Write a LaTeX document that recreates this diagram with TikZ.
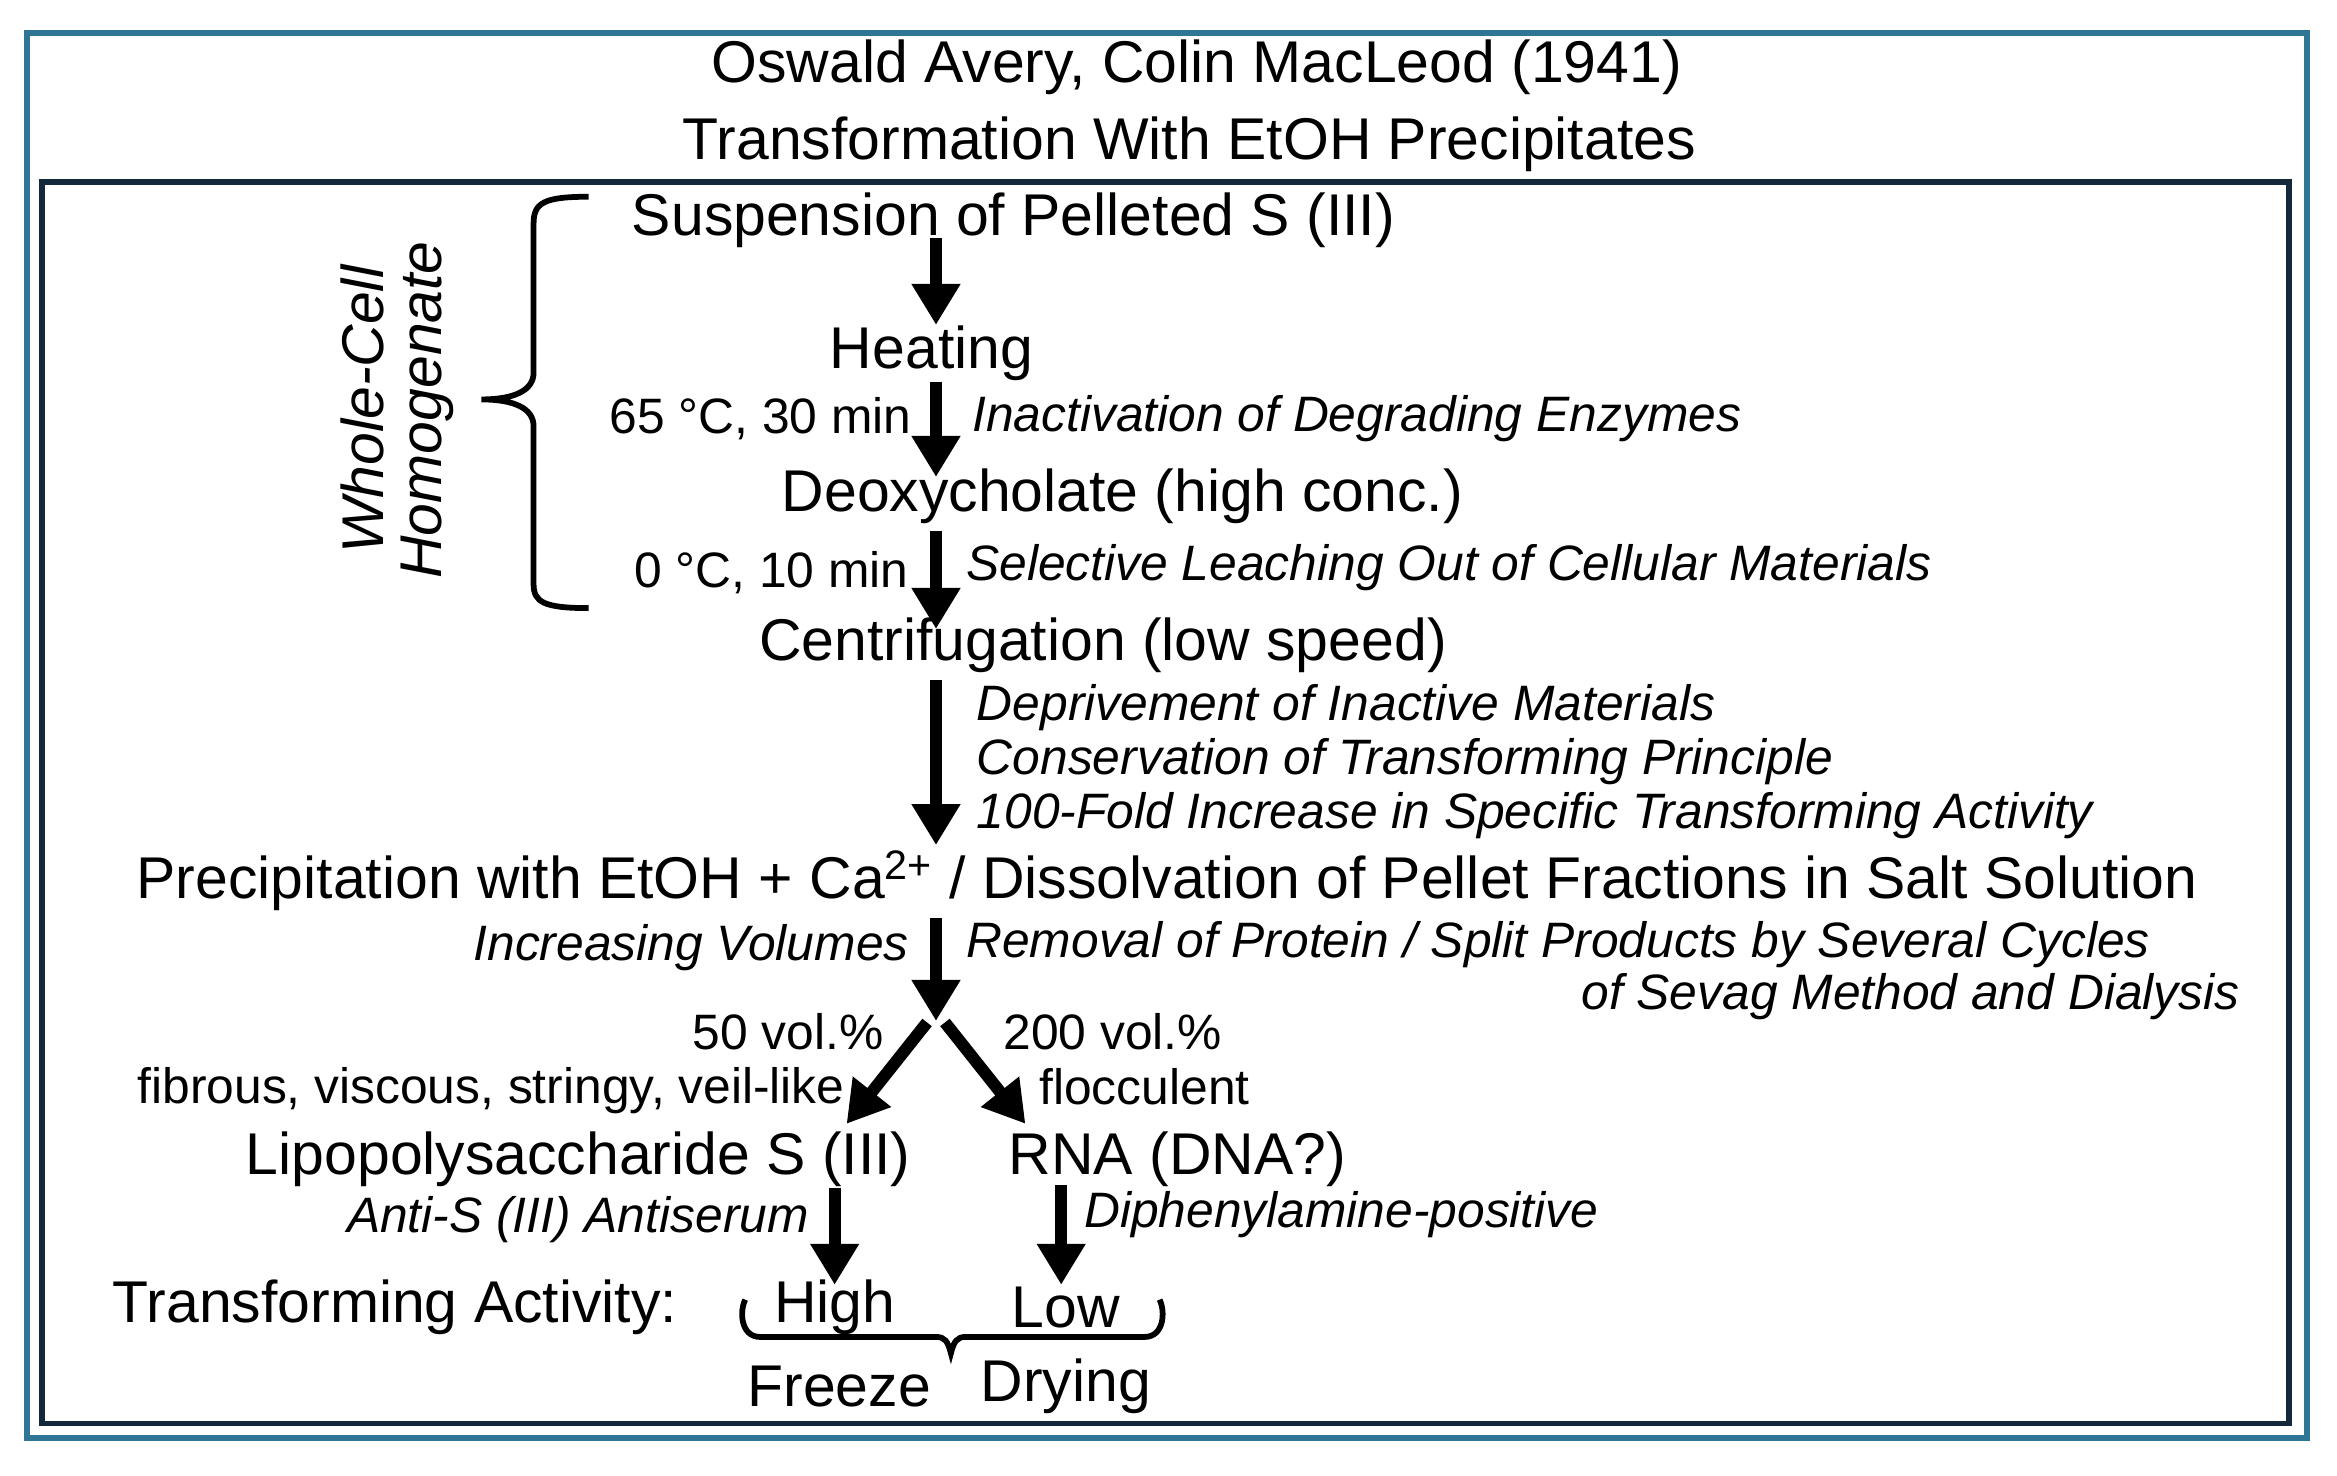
\documentclass[tikz,border=0pt]{standalone}
\usepackage{fontspec}
\setmainfont{Liberation Sans}
\usetikzlibrary{arrows.meta}
\begin{document}
\begin{tikzpicture}[x=0.02cm,y=-0.02cm,
  big/.style={inner sep=0pt,font=\fontsize{22.5}{26}\selectfont},
  sm/.style={inner sep=0pt,font=\fontsize{19}{22}\selectfont},
  it/.style={inner sep=0pt,font=\fontsize{19}{22}\selectfont\itshape},
  arr/.style={line width=4.6pt,-{Triangle[length=0.55cm,width=0.62cm]}},
  br/.style={line width=2.2pt}]
\useasboundingbox (0,0) rectangle (1568,990);
\draw[line width=2.2pt,draw={rgb,255:red,46;green,117;blue,150}] (18,22) rectangle (1548,965);
\draw[line width=2.2pt,draw={rgb,255:red,20;green,40;blue,60}] (28,122) rectangle (1536,955);
\node[big] (t1) at (803,45) {Oswald Avery, Colin MacLeod (1941)};
\node[big] (t2) at (798,97) {Transformation With EtOH Precipitates};
\node[big] (n1) at (680,148) {Suspension of Pelleted S (III)};
\node[big] (n2) at (625,237) {Heating};
\node[big] (n3) at (753,333) {Deoxycholate (high conc.)};
\node[big] (n4) at (740,433) {Centrifugation (low speed)};
\node[big] (n5) at (783,591) {Precipitation with EtOH + Ca\textsuperscript{2+} / Dissolvation of Pellet Fractions in Salt Solution};
\coordinate (a1s) at (628,160); \coordinate (a1e) at (628,218);
\coordinate (a2s) at (628,256); \coordinate (a2e) at (628,320);
\coordinate (a3s) at (628,356); \coordinate (a3e) at (628,422);
\coordinate (a4s) at (628,456); \coordinate (a4e) at (628,567);
\coordinate (a5s) at (628,616); \coordinate (a5e) at (628,685);
\draw[arr] (a1s) -- (a1e);
\draw[arr] (a2s) -- (a2e);
\draw[arr] (a3s) -- (a3e);
\draw[arr] (a4s) -- (a4e);
\draw[arr] (a5s) -- (a5e);
\node[sm,anchor=east] (l1) at (612,281) {65 °C, 30 min};
\node[it,anchor=west] (r1) at (652,281) {Inactivation of Degrading Enzymes};
\node[sm,anchor=east] (l2) at (610,384) {0 °C, 10 min};
\node[it,anchor=west] (r2) at (648,381) {Selective Leaching Out of Cellular Materials};
\node[it,anchor=west] (r3) at (655,475) {Deprivement of Inactive Materials};
\node[it,anchor=west] (r4) at (655,511) {Conservation of Transforming Principle};
\node[it,anchor=west] (r5) at (655,547) {100-Fold Increase in Specific Transforming Activity};
\node[it,anchor=east] (l3) at (610,636) {Increasing Volumes};
\node[it,anchor=west] (r6) at (648,634) {Removal of Protein / Split Products by Several Cycles};
\node[it,anchor=east] (r7) at (1503,669) {of Sevag Method and Dialysis};
\coordinate (sp) at (628,686);
\draw[arr] (622,686) -- (568,754);
\draw[arr] (634,686) -- (688,754);
\node[sm,anchor=east] (v1) at (593,692) {50 vol.\%};
\node[sm,anchor=west] (v2) at (673,692) {200 vol.\%};
\node[sm,anchor=east] (d1) at (567,732) {fibrous, viscous, stringy, veil-like};
\node[sm,anchor=west] (d2) at (697,729) {flocculent};
\node[big] (lps) at (388,778) {Lipopolysaccharide S (III)};
\node[big] (rna) at (790,778) {RNA (DNA?)};
\draw[arr] (560,797) -- (560,862);
\draw[arr] (712,795) -- (712,862);
\node[it,anchor=east] (as) at (543,818) {Anti-S (III) Antiserum};
\node[it,anchor=west] (dp) at (727,815) {Diphenylamine-positive};
\node[big] (ta) at (265,877) {Transforming Activity:};
\node[big] (hi) at (560,877) {High};
\node[big] (lo) at (715,877) {Low};
\draw[br] (500,872) .. controls (496,880) and (497,897) .. (510,897) -- (628,897) .. controls (634,897) and (636,900) .. (638,908)
  .. controls (640,900) and (642,897) .. (648,897) -- (768,897) .. controls (781,897) and (782,880) .. (778,872);
\node[big] (fz) at (563,930) {Freeze};
\node[big] (dr) at (715,930) {Drying};
\draw[br] (395,132) .. controls (365,132) and (358,136) .. (358,150) -- (358,250) .. controls (358,262) and (345,268) .. (323,268)
  .. controls (345,268) and (358,274) .. (358,286) -- (358,392) .. controls (358,404) and (365,408) .. (395,408);
\node[big,rotate=90,font=\fontsize{22.5}{26}\selectfont\itshape] (wc) at (243,275) {Whole-Cell};
\node[big,rotate=90,font=\fontsize{22.5}{26}\selectfont\itshape] (hg) at (287,275) {Homogenate};
\end{tikzpicture}
\end{document}
